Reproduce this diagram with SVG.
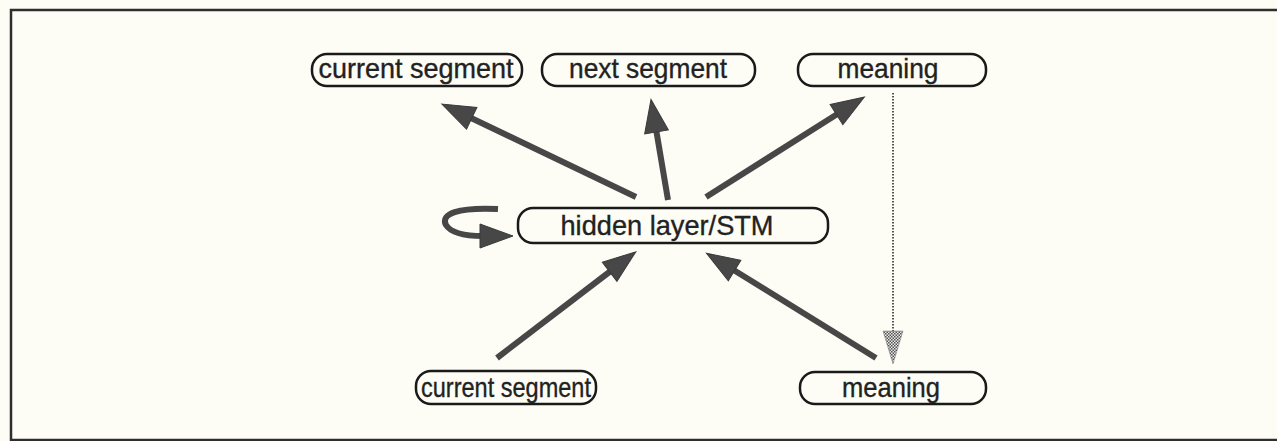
<svg xmlns="http://www.w3.org/2000/svg" width="1277" height="441" viewBox="0 0 1277 441">
  <style>
    .node rect { fill: none; stroke: #1a1a1a; stroke-width: 2.5; }
    .node text { font-family: "Liberation Sans", Arial, sans-serif; font-size: 28px; fill: #222; stroke: #222; stroke-width: 0.35; text-anchor: middle; }
    .arrow { fill: none; stroke: #474747; stroke-width: 6; marker-end: url(#head); }
  </style>
  <defs>
    <marker id="head" markerUnits="userSpaceOnUse" orient="auto" refX="0" refY="0" markerWidth="34" markerHeight="28" overflow="visible">
      <path d="M-3,-12 L30,0 L-3,12 Z" fill="#474747" stroke="#3a3a3a" stroke-width="1"/>
    </marker>
    <pattern id="checker" width="3" height="3" patternUnits="userSpaceOnUse">
      <rect width="3" height="3" fill="#e8e8e8"/>
      <rect width="1.5" height="1.5" fill="#555"/>
      <rect x="1.5" y="1.5" width="1.5" height="1.5" fill="#555"/>
    </pattern>
  </defs>

  <!-- page background and frame -->
  <rect x="0" y="0" width="1277" height="441" fill="#fdfdf5"/>
  <rect x="11" y="10" width="1280" height="430" fill="none" stroke="#2e2e2e" stroke-width="2.5"/>

  <!-- output units -->
  <g id="out-current" class="node">
    <rect x="312" y="54" width="210" height="32" rx="15"/>
    <text x="416" y="78" textLength="195" lengthAdjust="spacingAndGlyphs">current segment</text>
  </g>
  <g id="out-next" class="node">
    <rect x="542" y="54" width="213" height="32" rx="15"/>
    <text x="648" y="78" textLength="158" lengthAdjust="spacingAndGlyphs">next segment</text>
  </g>
  <g id="out-meaning" class="node">
    <rect x="798" y="54" width="188" height="32" rx="15"/>
    <text x="888" y="78" textLength="101" lengthAdjust="spacingAndGlyphs">meaning</text>
  </g>

  <!-- hidden layer -->
  <g id="hidden" class="node">
    <rect x="518" y="208" width="310" height="35" rx="15"/>
    <text x="667" y="235" textLength="213" lengthAdjust="spacingAndGlyphs">hidden layer/STM</text>
  </g>

  <!-- input units -->
  <g id="in-current" class="node">
    <rect x="416" y="371" width="180" height="33" rx="15"/>
    <text x="506" y="397" textLength="170" lengthAdjust="spacingAndGlyphs">current segment</text>
  </g>
  <g id="in-meaning" class="node">
    <rect x="800" y="372" width="186" height="32" rx="15"/>
    <text x="891" y="397" textLength="98" lengthAdjust="spacingAndGlyphs">meaning</text>
  </g>

  <!-- connections -->
  <g id="connectors">
    <line class="arrow" x1="636" y1="197" x2="469" y2="117"/>
    <line class="arrow" x1="668" y1="200" x2="656" y2="129"/>
    <line class="arrow" x1="706" y1="197" x2="839" y2="113"/>
    <line class="arrow" x1="497" y1="358" x2="612" y2="270"/>
    <line class="arrow" x1="876" y1="358" x2="732" y2="269"/>
    <!-- recurrent loop on the hidden layer -->
    <path class="arrow" d="M 498 209 C 458 207, 440 214, 446 225 C 451 233, 465 236, 483 236"/>
    <!-- meaning copied back as input -->
    <line x1="893" y1="93" x2="893" y2="332" stroke="#555" stroke-width="2" stroke-dasharray="1.5 1.5"/>
    <polygon points="883,331 903,331 893,364" fill="url(#checker)" stroke="#777" stroke-width="0.5"/>
  </g>
</svg>
